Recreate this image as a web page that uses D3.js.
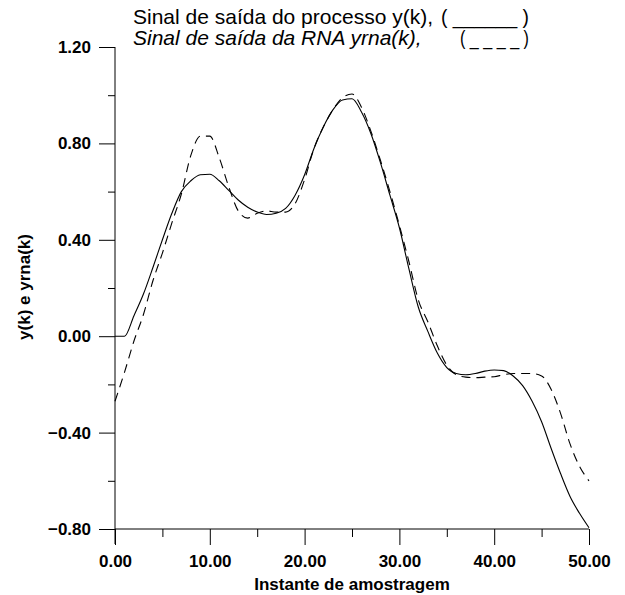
<!DOCTYPE html>
<html lang="en">
  <head>
    <meta charset="UTF-8" />
    <title>Sinal de saída do processo e da RNA</title>
    <script src="https://cdnjs.cloudflare.com/ajax/libs/d3/7.8.5/d3.min.js"></script>
    <style>
      body { margin: 0; background: #fff; }
      text { font-family: "Liberation Sans", Arial, sans-serif; fill: #000; }
    </style>
  </head>
  <body>
    <div id="chart"></div>
    <script>
      // sample instants k = 0..50
      const k = d3.range(0, 51);

      // process output y(k), solid
      const yProc = [
        0, 0, 0.085, 0.175, 0.285, 0.40, 0.51, 0.60, 0.645, 0.67,
        0.672, 0.645, 0.605, 0.565, 0.535, 0.515, 0.505, 0.51, 0.53, 0.585,
        0.67, 0.78, 0.87, 0.94, 0.98, 0.985, 0.93, 0.84, 0.72, 0.585,
        0.45, 0.28, 0.12, 0.02, -0.07, -0.13, -0.155, -0.16, -0.155, -0.145,
        -0.14, -0.143, -0.165, -0.205, -0.27, -0.355, -0.465, -0.57, -0.665, -0.735,
        -0.795
      ];

      // network output yrna(k), dashed
      const yRna = [
        -0.27, -0.15, -0.02, 0.09, 0.23, 0.345, 0.47, 0.59, 0.75, 0.83,
        0.83, 0.74, 0.62, 0.52, 0.49, 0.51, 0.52, 0.515, 0.515, 0.55,
        0.65, 0.78, 0.87, 0.94, 0.99, 1.005, 0.95, 0.85, 0.73, 0.60,
        0.46, 0.31, 0.15, 0.06, -0.04, -0.12, -0.16, -0.17, -0.172, -0.17,
        -0.168, -0.16, -0.155, -0.155, -0.155, -0.165, -0.22, -0.32, -0.447, -0.54,
        -0.60
      ];

      const xTicks = [0, 10, 20, 30, 40, 50];
      const xMinor = [5, 15, 25, 35, 45];
      const yTicks = [-0.8, -0.4, 0, 0.4, 0.8, 1.2];
      const yMinor = [-0.6, -0.2, 0.2, 0.6, 1.0];

      const width = 625, height = 595;

      const svg = d3.select("#chart").append("svg")
        .attr("width", width)
        .attr("height", height);

      const x = d3.scaleLinear().domain([0, 50]).range([115, 589]);
      const y = d3.scaleLinear().domain([-0.8, 1.2]).range([529, 47]);

      // y axis
      const yAxis = svg.append("g").attr("transform", "translate(115,0)");
      yAxis.call(d3.axisLeft(y).tickValues(yTicks).tickSize(16).tickSizeOuter(0)
        .tickPadding(8).tickFormat(d3.format(".2f")));
      yAxis.append("g").call(d3.axisLeft(y).tickValues(yMinor).tickSize(7)
        .tickSizeOuter(0).tickFormat(""));
      yAxis.selectAll(".domain").remove();
      yAxis.append("line").attr("x1", 0).attr("x2", 0)
        .attr("y1", y(1.2)).attr("y2", y(-0.8) + 15).attr("stroke", "#000");

      // x axis
      const xAxis = svg.append("g").attr("transform", "translate(0,529)");
      xAxis.call(d3.axisBottom(x).tickValues(xTicks).tickSize(16).tickSizeOuter(0)
        .tickPadding(10).tickFormat(d3.format(".2f")));
      xAxis.append("g").call(d3.axisBottom(x).tickValues(xMinor).tickSize(8)
        .tickSizeOuter(0).tickFormat(""));
      xAxis.selectAll(".domain").remove();
      xAxis.append("line").attr("x1", x(0)).attr("x2", x(50))
        .attr("y1", 0).attr("y2", 0).attr("stroke", "#000");

      svg.selectAll(".tick line").attr("stroke", "#000");
      svg.selectAll(".tick text")
        .attr("font-size", 17).attr("font-weight", "bold")
        .style("font-family", "'Liberation Sans', Arial, sans-serif")
        .attr("fill", "#000");

      // curves
      const line = (vals) => d3.line()
        .x((d, i) => x(k[i]))
        .y((d) => y(d))
        .curve(d3.curveMonotoneX)(vals);

      svg.append("path").attr("d", line(yProc))
        .attr("fill", "none").attr("stroke", "#000").attr("stroke-width", 1.1);
      svg.append("path").attr("d", line(yRna))
        .attr("fill", "none").attr("stroke", "#000").attr("stroke-width", 1.1)
        .attr("stroke-dasharray", "9,6");

      // axis titles
      svg.append("text")
        .attr("x", 352).attr("y", 590)
        .attr("text-anchor", "middle")
        .attr("font-size", 17).attr("font-weight", "bold")
        .text("Instante de amostragem");

      svg.append("text")
        .attr("transform", "translate(30,287) rotate(-90)")
        .attr("text-anchor", "middle")
        .attr("font-size", 17).attr("font-weight", "bold")
        .text("y(k) e yrna(k)");

      // legend lines
      svg.append("text")
        .attr("x", 133).attr("y", 24)
        .attr("font-size", 21)
        .text("Sinal de saída do processo y(k),");
      svg.append("text")
        .attr("x", 441).attr("y", 24)
        .attr("font-size", 21)
        .attr("textLength", 88).attr("lengthAdjust", "spacingAndGlyphs")
        .text("( ______ )");

      svg.append("text")
        .attr("x", 133).attr("y", 45)
        .attr("font-size", 21).attr("font-style", "italic")
        .text("Sinal de saída da RNA yrna(k),");
      svg.append("text")
        .attr("x", 460).attr("y", 45)
        .attr("font-size", 21)
        .attr("textLength", 69).attr("lengthAdjust", "spacingAndGlyphs")
        .text("( _ _ _ _ )");
    </script>
  </body>
</html>
